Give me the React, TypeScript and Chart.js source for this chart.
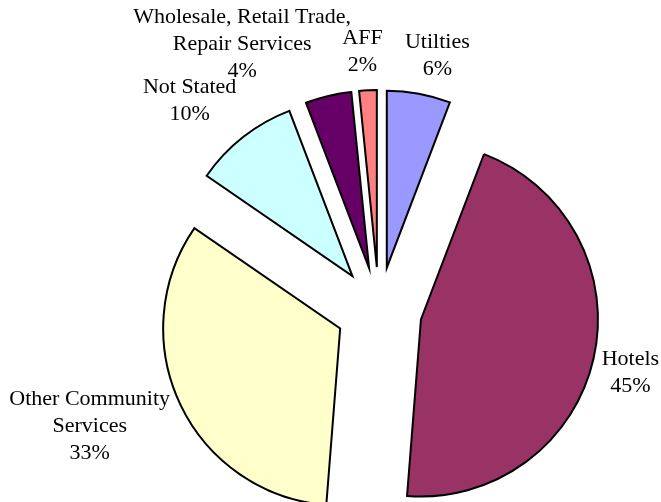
import React, { useEffect, useRef } from 'react';
import { Chart, registerables } from 'chart.js';

Chart.register(...registerables);

// ---- data ----
const categories = [
  'Utilties',
  'Hotels',
  'Other Community Services',
  'Not Stated',
  'Wholesale, Retail Trade, Repair Services',
  'AFF',
];
const labelLines = [
  ['Utilties'],
  ['Hotels'],
  ['Other Community', 'Services'],
  ['Not Stated'],
  ['Wholesale, Retail Trade,', 'Repair Services'],
  ['AFF'],
];
const values = [5.8, 45.45, 33.35, 9.6, 4.2, 1.6];
const colors = ['#9999FF', '#993366', '#FFFFCC', '#CCFFFF', '#660066', '#FF8080'];

// ---- styling / layout config ----
const EXPLODE = 43;
const LABEL_GAP = 9;
const FONT_SIZE = 22;
const LINE_H = 27;
const FONT = `${FONT_SIZE}px "Liberation Serif", "Times New Roman", serif`;
const labelNudge = [
  [11, -3],
  [0, 6],
  [-10, 0],
  [-19, -8],
  [-59, -4],
  [-4, -3],
];

const explodePlugin = {
  id: 'explodePie',
  beforeDatasetDraw(chart: any, args: any) {
    const meta = chart.getDatasetMeta(args.index);
    const ctx = chart.ctx;
    meta.data.forEach((arc: any) => {
      const mid = (arc.startAngle + arc.endAngle) / 2;
      ctx.save();
      ctx.translate(Math.cos(mid) * EXPLODE, Math.sin(mid) * EXPLODE);
      arc.draw(ctx);
      ctx.restore();
    });
    return false;
  },
  afterDatasetsDraw(chart: any) {
    const meta = chart.getDatasetMeta(0);
    const ctx = chart.ctx;
    const data = chart.data.datasets[0].data as number[];
    const total = data.reduce((a, b) => a + b, 0);
    ctx.save();
    ctx.font = FONT;
    ctx.fillStyle = '#000';
    ctx.textAlign = 'center';
    ctx.textBaseline = 'middle';
    meta.data.forEach((arc: any, i: number) => {
      const mid = (arc.startAngle + arc.endAngle) / 2;
      const dx = Math.cos(mid);
      const dy = Math.sin(mid);
      const r = arc.outerRadius + EXPLODE + LABEL_GAP;
      const ax = arc.x + dx * r;
      const ay = arc.y + dy * r;
      const lines = [...labelLines[i], Math.round((data[i] / total) * 100) + '%'];
      const w = Math.max(...lines.map((l) => ctx.measureText(l).width));
      const h = lines.length * LINE_H;
      const cx = ax + (dx * w) / 2 + labelNudge[i][0];
      const cy = ay + (dy * h) / 2 + labelNudge[i][1];
      lines.forEach((l, k) => {
        ctx.fillText(l, cx, cy - h / 2 + LINE_H / 2 + k * LINE_H);
      });
    });
    ctx.restore();
  },
};

export default function App() {
  const ref = useRef<HTMLCanvasElement | null>(null);
  useEffect(() => {
    if (!ref.current) return;
    const chart = new Chart(ref.current, {
      type: 'pie',
      data: {
        labels: categories,
        datasets: [
          {
            data: values,
            backgroundColor: colors,
            borderColor: '#000',
            borderWidth: 2,
            borderJoinStyle: 'miter',
            radius: 177,
          } as any,
        ],
      },
      options: {
        animation: false,
        responsive: true,
        maintainAspectRatio: false,
        layout: { padding: { left: 97, right: 0, top: 118, bottom: 0 } },
        plugins: {
          legend: { display: false },
          tooltip: { enabled: false },
        },
      },
      plugins: [explodePlugin],
    });
    return () => chart.destroy();
  }, []);
  return (
    <div style={{ position: 'absolute', left: 0, top: 0, width: 661, height: 502, background: '#fff' }}>
      <canvas ref={ref} />
    </div>
  );
}
